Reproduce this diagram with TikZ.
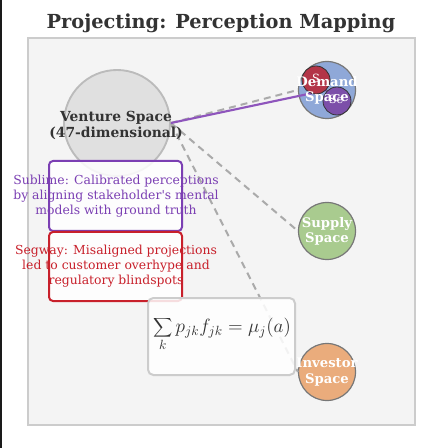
\documentclass[tikz,border=0pt]{standalone}
\usepackage{fontspec}
\setmainfont{DejaVu Serif}
\definecolor{stripc}{HTML}{1A1A1A}
\definecolor{panelf}{HTML}{F4F4F4}
\definecolor{paneld}{HTML}{CCCCCC}
\definecolor{titlec}{HTML}{333333}
\definecolor{venturef}{HTML}{E0E0E0}
\definecolor{ventured}{HTML}{BBBBBB}
\definecolor{demandf}{HTML}{8FA8D8}
\definecolor{supplyf}{HTML}{A9CB8F}
\definecolor{investf}{HTML}{EAAC7C}
\definecolor{circd}{HTML}{777777}
\definecolor{redsub}{HTML}{B33548}
\definecolor{purpsub}{HTML}{7C4FA9}
\definecolor{sublc}{HTML}{7B3FB3}
\definecolor{segc}{HTML}{C8202B}
\definecolor{dashc}{HTML}{AAAAAA}
\definecolor{purpline}{HTML}{8E55BC}
\begin{document}
\begin{tikzpicture}[x=0.75pt,y=-0.75pt,
  spacecirc/.style={circle,inner sep=0pt,draw=circd,line width=0.9pt},
  subcirc/.style={circle,inner sep=0pt,draw=titlec,line width=0.6pt,minimum size=21pt},
  spacetext/.style={text=white,font=\bfseries\fontsize{9.9}{11.4}\selectfont,align=center,inner sep=0pt},
  subtext/.style={text=white,font=\fontsize{8.5}{10}\selectfont,inner sep=0pt},
  dashline/.style={draw=dashc,line width=1.5pt,dash pattern=on 5.2pt off 3.8pt},
  purpln/.style={draw=purpline,line width=1.6pt},
  infobox/.style={rounded corners=3pt,fill=white,fill opacity=0.85,line width=1.5pt,inner sep=0pt,minimum width=99.75pt},
  boxtext/.style={font=\fontsize{9.3}{11.2}\selectfont,align=center,inner sep=0pt}
]
\useasboundingbox (0,0) rectangle (428,448);
\fill[white] (0,0) rectangle (428,448);
\fill[stripc] (0,0) rectangle (2,448);
\draw[fill=panelf,draw=paneld,line width=1.2pt] (28,38) rectangle (415,425);
\node[text=titlec,font=\bfseries\fontsize{14.5}{16}\selectfont,inner sep=0pt] (title) at (221,23) {Projecting: Perception Mapping};

% space circles
\node[spacecirc,fill=venturef,draw=ventured,line width=1.4pt,minimum size=79.5pt] (venture) at (117,123) {};
\node[spacecirc,fill=demandf,minimum size=42.75pt] (demand) at (327,90) {};
\node[spacecirc,fill=supplyf,minimum size=42.75pt] (supply) at (327,231) {};
\node[spacecirc,fill=investf,minimum size=42.75pt] (investor) at (327,372) {};

% connectors
\draw[dashline] (venture.east) -- (demand.west);
\draw[dashline] (venture.east) -- (supply.west);
\draw[dashline] (venture.east) -- (investor.west);
\draw[purpln] (venture.east) -- (demand.center);

% sub circles of demand
\node[subcirc,fill=redsub] (ssub) at (316,80) {};
\node[subcirc,fill=purpsub] (sseg) at (337,101) {};
\node[subtext] (slab) at (316,78) {S};
\node[subtext] (selab) at (336,99) {Se};

% boxes
\node[infobox,draw=sublc,minimum height=52.5pt] (sublime) at (115.5,196) {};
\node[infobox,draw=segc,minimum height=51.75pt] (segway) at (115.5,266.5) {};
\node[infobox,draw=paneld,minimum width=110.25pt,minimum height=57.75pt,rounded corners=4pt] (formula) at (221.5,336.5) {};

% texts
\node[boxtext,text=sublc] (sublimetxt) at (116,196.5) {Sublime: Calibrated perceptions\\by aligning stakeholder\textquotesingle s mental\\models with ground truth};
\node[boxtext,text=segc] (segwaytxt) at (116,266) {Segway: Misaligned projections\\led to customer overhype and\\regulatory blindspots};
\node[text=titlec,inner sep=0pt,font=\fontsize{14.3}{17}\selectfont] (formtxt) at (222,334) {$\displaystyle\sum_k p_{jk}f_{jk}=\mu_j(a)$};
\node[text=titlec,font=\bfseries\fontsize{10.4}{12}\selectfont,align=center,inner sep=0pt] (venturetxt) at (116,125) {Venture Space\\(47-dimensional)};
\node[spacetext] (demandtxt) at (327,90) {Demand\\Space};
\node[spacetext] (supplytxt) at (327,231) {Supply\\Space};
\node[spacetext] (investtxt) at (327,372) {Investor\\Space};
\end{tikzpicture}
\end{document}
